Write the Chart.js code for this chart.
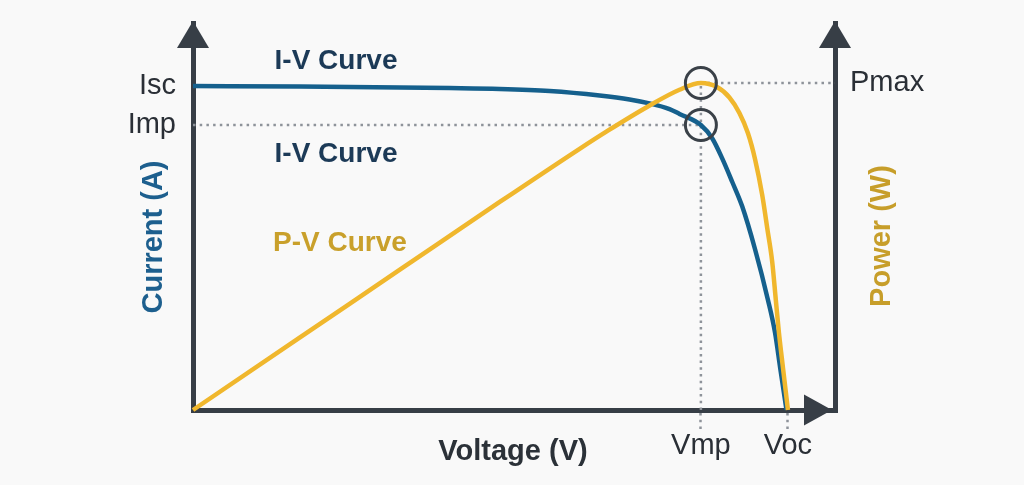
<!DOCTYPE html>
<html><head><meta charset="utf-8">
<script src="https://cdn.jsdelivr.net/npm/chart.js@4/dist/chart.umd.min.js"></script>
<style>html,body{margin:0;padding:0;background:#f9f9f9;}canvas{display:block;}</style>
</head><body>
<canvas id="c" width="1024" height="485"></canvas>
<script>
// ---- data ----
const ivVoltage = [0, 7.5, 14.5, 18, 21.5, 25, 28.5, 30.6, 32, 33.4, 34.1, 35.6, 36.4, 37.1, 37.8, 38.5, 39.4, 40.3, 40.8, 41.15, 41.6];
const ivCurrent = [10.8, 10.78, 10.75, 10.73, 10.7, 10.63, 10.48, 10.35, 10.22, 10.03, 9.87, 9.5, 9.05, 8.38, 7.6, 6.78, 5.35, 3.67, 2.57, 1.43, 0];
const pvVoltage = [0, 7.5, 14.5, 21.5, 27.1, 29, 31.8, 34.1, 35.6, 36.7, 37.6, 38.3, 38.9, 39.4, 39.9, 40.25, 40.6, 40.85, 41.07, 41.35, 41.7];
const pvPower = [0, 75, 145, 215, 270, 288, 313, 331, 338, 334, 323, 307, 286, 259, 222, 188, 153, 114, 80, 44, 0];
const Isc = 10.8, Imp = 9.5, Vmp = 35.6, Voc = 41.7, Pmax = 338;
const currentTicks = [Isc, Imp];
const currentTickLabels = ['Isc', 'Imp'];
const powerTicks = [Pmax];
const powerTickLabels = ['Pmax'];
const voltageTicks = [Vmp, Voc];
const voltageTickLabels = ['Vmp', 'Voc'];
const voltageMax = 45, currentMax = 12.9, powerMax = 400;

// ---- styles ----
const AXIS = '#373e46';
const BLUE = '#15608d';
const GOLD = '#f0b72d';
const DOT = '#8e939a';
const FONT = '"Liberation Sans", Arial, sans-serif';

const texts = [
  {t: 'I-V Curve', x: 336, y: 69, c: '#1c3a57', f: 'bold 28px ' + FONT},
  {t: 'I-V Curve', x: 336, y: 162, c: '#1c3a57', f: 'bold 28px ' + FONT},
  {t: 'P-V Curve', x: 340, y: 251, c: '#c9a02b', f: 'bold 28px ' + FONT},
  {t: 'Voltage (V)', x: 513, y: 460, c: '#2b3138', f: 'bold 29px ' + FONT},
  {t: 'Current (A)', x: 162, y: 237, c: '#1d5f8e', f: 'bold 29px ' + FONT, r: true},
  {t: 'Power (W)', x: 890, y: 236, c: '#c79e2a', f: 'bold 29px ' + FONT, r: true}
];

const pts = (xs, ys) => xs.map((x, i) => ({x: x, y: ys[i]}));

const decor = {
  id: 'decor',
  beforeDraw(chart) {
    const ctx = chart.ctx;
    ctx.save();
    ctx.fillStyle = '#f9f9f9';
    ctx.fillRect(0, 0, chart.width, chart.height);
    ctx.restore();
  },
  afterDraw(chart) {
    const ctx = chart.ctx, a = chart.chartArea;
    ctx.save();
    ctx.fillStyle = AXIS;
    const tri = (p) => { ctx.beginPath(); ctx.moveTo(p[0], p[1]); ctx.lineTo(p[2], p[3]); ctx.lineTo(p[4], p[5]); ctx.closePath(); ctx.fill(); };
    tri([a.left, a.top - 2, a.left - 16, a.top + 25, a.left + 16, a.top + 25]);
    tri([a.right, a.top - 2, a.right - 16, a.top + 25, a.right + 16, a.top + 25]);
    tri([a.right - 3, a.bottom, a.right - 31, a.bottom - 15.5, a.right - 31, a.bottom + 15.5]);
    for (const s of texts) {
      ctx.save();
      ctx.font = s.f;
      ctx.fillStyle = s.c;
      ctx.textAlign = 'center';
      ctx.textBaseline = 'alphabetic';
      ctx.translate(s.x, s.y);
      if (s.r) ctx.rotate(-Math.PI / 2);
      ctx.fillText(s.t, 0, 0);
      ctx.restore();
    }
    ctx.restore();
  }
};

const dotted = {borderColor: DOT, borderWidth: 2.5, borderDash: [2.5, 4.2], pointRadius: 0, fill: false, clip: false};
const noPad = s => { s.paddingTop = 0; s.paddingBottom = 0; s.paddingLeft = 0; s.paddingRight = 0; };

new Chart(document.getElementById('c'), {
  type: 'line',
  data: {
    datasets: [
      {data: [{x: Vmp, y: Pmax}], yAxisID: 'power', showLine: false, pointRadius: 15.5, pointBorderWidth: 3, pointBorderColor: '#3a4148', pointBackgroundColor: 'rgba(0,0,0,0)', clip: false},
      {data: [{x: Vmp, y: Imp}], yAxisID: 'current', showLine: false, pointRadius: 15.5, pointBorderWidth: 3, pointBorderColor: '#3a4148', pointBackgroundColor: 'rgba(0,0,0,0)', clip: false},
      {data: pts(pvVoltage, pvPower), yAxisID: 'power', borderColor: GOLD, borderWidth: 4.5, pointRadius: 0, cubicInterpolationMode: 'monotone', fill: false, clip: false},
      {data: pts(ivVoltage, ivCurrent), yAxisID: 'current', borderColor: BLUE, borderWidth: 4.5, pointRadius: 0, cubicInterpolationMode: 'monotone', fill: false, clip: false},
      Object.assign({data: [{x: 0, y: Imp}, {x: Vmp, y: Imp}], yAxisID: 'current'}, dotted),
      Object.assign({data: [{x: Vmp, y: Pmax}, {x: voltageMax, y: Pmax}], yAxisID: 'power'}, dotted),
      Object.assign({data: [{x: Vmp, y: 0}, {x: Vmp, y: Pmax}], yAxisID: 'power'}, dotted)
    ]
  },
  options: {
    responsive: false,
    animation: false,
    layout: {padding: {top: 23, left: 0, right: 0, bottom: 0}},
    plugins: {legend: {display: false}, tooltip: {enabled: false}},
    scales: {
      x: {
        type: 'linear', position: 'bottom', min: 0, max: voltageMax,
        afterBuildTicks: s => { s.ticks = voltageTicks.map(v => ({value: v})); },
        afterFit: s => { s.height = 75; noPad(s); },
        grid: {display: true, drawOnChartArea: false, drawTicks: true, tickLength: 19, lineWidth: 5, tickWidth: 2.5, tickColor: DOT, tickBorderDash: [2.5, 4.2]},
        border: {display: true, color: AXIS, width: 5},
        ticks: {autoSkip: false, maxRotation: 0, padding: 0, color: '#2a2f36', font: {family: FONT, size: 29}, callback: (v, i) => voltageTickLabels[i]}
      },
      current: {
        type: 'linear', position: 'left', min: 0, max: currentMax,
        afterBuildTicks: s => { s.ticks = currentTicks.map(v => ({value: v})); },
        afterFit: s => { s.width = 193; noPad(s); },
        grid: {display: false, drawTicks: false, lineWidth: 5},
        border: {display: true, color: AXIS, width: 5},
        ticks: {autoSkip: false, padding: 17, color: '#2a2f36', font: {family: FONT, size: 29}, callback: (v, i) => currentTickLabels[i]}
      },
      power: {
        type: 'linear', position: 'right', min: 0, max: powerMax,
        afterBuildTicks: s => { s.ticks = powerTicks.map(v => ({value: v})); },
        afterFit: s => { s.width = 189; noPad(s); },
        grid: {display: false, drawTicks: false, lineWidth: 5},
        border: {display: true, color: AXIS, width: 5},
        ticks: {autoSkip: false, padding: 15, color: '#2a2f36', font: {family: FONT, size: 29}, callback: (v, i) => powerTickLabels[i]}
      }
    }
  },
  plugins: [decor]
});
</script>
</body></html>
